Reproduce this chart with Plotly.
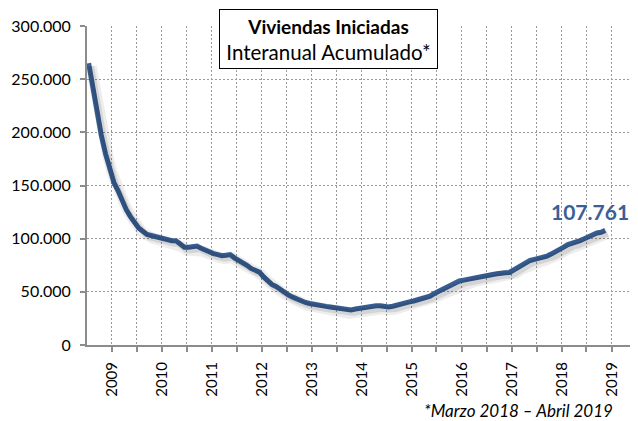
import plotly.graph_objects as go
import pandas as pd

# Interanual acumulado de viviendas iniciadas (valores mensuales, jul-2008 .. nov-2018 en el eje)
viviendas = [
    265000, 241000, 219000, 197500, 180000, 165000,                      # 2008 (jul-dic)
    153000, 145000, 136000, 127500, 121000, 116000, 110000, 107000, 104000, 103000, 102000, 101000,  # 2009
    100000, 98000, 98000, 98000, 95000, 92000, 92000, 93000, 93000, 91000, 89000, 87000,             # 2010
    86000, 85000, 84000, 84500, 85000, 82000, 80000, 77500, 75000, 72000, 70500, 68500,              # 2011
    64000, 60000, 57000, 55000, 52000, 49500, 47000, 45000, 43000, 41500, 40000, 39000,              # 2012
    38000, 37500, 37000, 36300, 35800, 35200, 34500, 33300, 32500, 33000, 33800, 34500,              # 2013
    35000, 35700, 36300, 36900, 36800, 36200, 35700, 36500, 37800, 38800, 39700, 40600,              # 2014
    41400, 42500, 43600, 44600, 46000, 48400, 50300, 52000, 54000, 56500, 58500, 60200,              # 2015
    61000, 61600, 62500, 63400, 64000, 64800, 65500, 66300, 67000, 67800, 68000, 68200,              # 2016
    70500, 73500, 75500, 77500, 79500, 80500, 81300, 82200, 83500, 85500, 87300, 89500,              # 2017
    92000, 94500, 95500, 96600, 98200, 100000, 101800, 103500, 105300, 106000, 107761,               # 2018
]
meses = [d + pd.Timedelta(days=14) for d in pd.date_range("2008-07-01", periods=len(viviendas), freq="MS")]

anios = list(range(2009, 2020))
tick_fechas = []
tick_textos = []
for a in anios:
    tick_fechas += [f"{a}-01-01", f"{a}-07-01"]
    tick_textos += [str(a), ""]

y_ticks = [0, 50000, 100000, 150000, 200000, 250000, 300000]
ultimo_valor = "107.761"
titulo = ('<span style="font-size:19px"><b>Viviendas Iniciadas</b></span><br>'
          '<span style="font-size:20.5px">Interanual Acumulado*</span>')
nota = "<i>*Marzo 2018 – Abril 2019</i>"

LINE = "#3a6096"
AXIS = "#8c8c8c"
GRID = "#9a9a9a"
FONT = "Lato"
TXT = "#000000"

x_range = [pd.Timestamp("2008-07-03"), pd.Timestamp("2019-06-28")]
y_range = [0, 300000]

# shadow overlay axes shifted by a few pixels
px_per_day = 549 / (x_range[1] - x_range[0]).days
sx = pd.Timedelta(days=2.5 / px_per_day)
sy = 3 * 300000 / 319

fig = go.Figure()
fig.add_trace(go.Scatter(x=meses, y=viviendas, mode="lines", xaxis="x2", yaxis="y2",
                         line=dict(color="rgba(0,0,0,0.07)", width=11), hoverinfo="skip"))
fig.add_trace(go.Scatter(x=meses, y=viviendas, mode="lines", xaxis="x2", yaxis="y2",
                         line=dict(color="rgba(0,0,0,0.10)", width=6), hoverinfo="skip"))
fig.add_trace(go.Scatter(x=meses, y=viviendas, mode="lines",
                         line=dict(color=LINE, width=5), hoverinfo="skip"))

# the page body adds an 8px margin, so the figure is sized to fit the 638x421 window
fig.update_layout(
    width=630, height=413,
    margin=dict(l=79, r=2, t=18, b=76, autoexpand=False),
    paper_bgcolor="white", plot_bgcolor="white",
    showlegend=False,
    separators=",.",
    font=dict(family=FONT, size=16, color=TXT),
    xaxis=dict(type="date", range=x_range, tickmode="array", tickvals=tick_fechas, ticktext=tick_textos,
               tickangle=-90, tickfont=dict(size=15, color=TXT), automargin=False,
               showgrid=True, gridcolor=GRID, gridwidth=1, griddash="2px,2px",
               showline=True, linecolor=AXIS, linewidth=2,
               ticks="outside", ticklen=5, tickwidth=2, tickcolor=AXIS,
               ticklabelstandoff=4, zeroline=False),
    yaxis=dict(range=y_range, tickmode="array", tickvals=y_ticks, tickformat=",.0f",
               tickfont=dict(size=16, color=TXT), automargin=False,
               showgrid=True, gridcolor=GRID, gridwidth=1, griddash="2px,2px",
               showline=True, linecolor=AXIS, linewidth=2,
               ticks="outside", ticklen=5, tickwidth=2, tickcolor=AXIS,
               ticklabelstandoff=6, zeroline=False),
    xaxis2=dict(type="date", range=[x_range[0] - sx, x_range[1] - sx], overlaying="x", visible=False),
    yaxis2=dict(range=[y_range[0] + sy, y_range[1] + sy], overlaying="y", visible=False),
)

fig.add_annotation(x=meses[-1], y=viviendas[-1], xref="x", yref="y", text=f"<b>{ultimo_valor}</b>",
                   showarrow=False, xanchor="center", yanchor="middle", xshift=-15, yshift=19,
                   font=dict(family=FONT, size=21, color=LINE))
fig.add_annotation(x=0.44, y=0.959, xref="paper", yref="paper", text=titulo, showarrow=False,
                   xanchor="center", yanchor="middle", align="center",
                   width=215, height=56, borderpad=1,
                   bgcolor="white", bordercolor="black", borderwidth=1,
                   font=dict(family=FONT, size=20, color="black"))
fig.add_annotation(x=0.962, y=-0.204, xref="paper", yref="paper", text=nota, showarrow=False,
                   xanchor="right", yanchor="middle",
                   font=dict(family=FONT, size=17, color=TXT))

fig.write_html("out.html")
